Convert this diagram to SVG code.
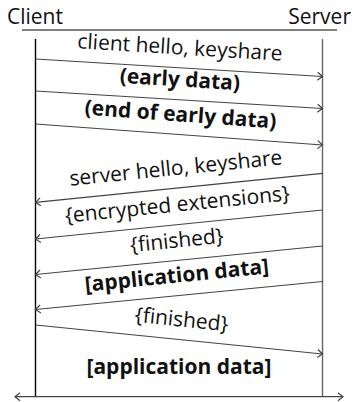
<svg xmlns="http://www.w3.org/2000/svg" width="357" height="402" viewBox="0 0 357 402">
<defs>
<style>
.t{font-family:"Open Sans","Noto Sans","DejaVu Sans",sans-serif;font-size:21px;fill:#111;text-anchor:middle}
.b{font-weight:bold}
.h{font-family:"Open Sans","Noto Sans","DejaVu Sans",sans-serif;font-size:21px;fill:#111}
.m{stroke:#444;stroke-width:1.2;fill:none}
</style>
<marker id="ah" viewBox="0 0 10 10" refX="9" refY="5" markerWidth="10" markerHeight="10" markerUnits="userSpaceOnUse" orient="auto-start-reverse">
<path d="M4,1 L9,5 L4,9" fill="none" stroke="#444" stroke-width="1.2"/>
</marker>
</defs>
<g id="header">
<text class="h" x="7" y="24">Client</text>
<text class="h" x="351" y="24" text-anchor="end">Server</text>
<line x1="22" y1="30" x2="337" y2="30" stroke="#555" stroke-width="1.5"/>
</g>
<g id="client"><line x1="35.5" y1="39" x2="35.5" y2="397" stroke="#000" stroke-width="1.4"/></g>
<g id="server"><line x1="322.5" y1="39" x2="322.5" y2="397" stroke="#666" stroke-width="1.4"/></g>
<g id="connectors">
<line class="m" x1="35.5" y1="59" x2="322.5" y2="76.5" marker-end="url(#ah)"/>
<line class="m" x1="35.5" y1="91" x2="322.5" y2="108.5" marker-end="url(#ah)"/>
<line class="m" x1="35.5" y1="124" x2="322.5" y2="145" marker-end="url(#ah)"/>
<line class="m" x1="322.5" y1="173.3" x2="35.5" y2="202.3" marker-end="url(#ah)"/>
<line class="m" x1="322.5" y1="210" x2="35.5" y2="239" marker-end="url(#ah)"/>
<line class="m" x1="322.5" y1="246" x2="35.5" y2="274.5" marker-end="url(#ah)"/>
<line class="m" x1="322.5" y1="281.5" x2="35.5" y2="309.5" marker-end="url(#ah)"/>
<line class="m" x1="35.5" y1="325" x2="322.5" y2="354" marker-end="url(#ah)"/>
<line class="m" x1="15" y1="396.7" x2="343" y2="396.7" marker-start="url(#ah)" marker-end="url(#ah)"/>
</g>
<g id="labels">
<text class="t" x="179.5" y="54.5" transform="rotate(3.49 179.5 54.5)">client hello, keyshare</text>
<text class="t b" x="179.5" y="86.5" transform="rotate(3.49 179.5 86.5)">(early data)</text>
<text class="t b" x="180" y="121.5" transform="rotate(4.18 180 121.5)">(end of early data)</text>
<text class="t" x="176.5" y="175" transform="rotate(-5.77 176.5 175)">server hello, keyshare</text>
<text class="t" x="178" y="211.5" transform="rotate(-5.77 178 211.5)">{encrypted extensions}</text>
<text class="t" x="177.5" y="247.5" transform="rotate(-5.77 177.5 247.5)">{finished}</text>
<text class="t b" x="177.5" y="282.5" transform="rotate(-5.77 177.5 282.5)">[application data]</text>
<text class="t" x="181" y="326.5" transform="rotate(5.77 181 326.5)">{finished}</text>
<text class="t b" x="179" y="374">[application data]</text>
</g>
</svg>
